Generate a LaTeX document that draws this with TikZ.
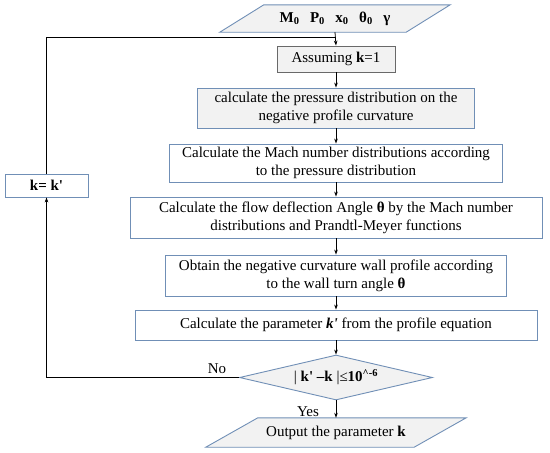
\documentclass[tikz,border=0pt]{standalone}
\usepackage{fontspec}
\setmainfont{Liberation Serif}
\usetikzlibrary{arrows.meta,calc,shapes.geometric}
\definecolor{bordblue}{RGB}{112,143,182}
\definecolor{lightfill}{RGB}{242,242,242}
\definecolor{graybord}{RGB}{105,105,105}
\tikzset{
  boxw/.style={draw=bordblue, line width=0.9pt, fill=white, inner sep=0pt, align=center,
    font=\fontsize{15}{18}\selectfont},
  boxg/.style={boxw, fill=lightfill},
  txtonly/.style={inner sep=0pt, align=center, font=\fontsize{15}{18}\selectfont},
  para/.style={draw=bordblue, line width=0.9pt, fill=lightfill},
  arr/.style={line width=0.8pt, -{Stealth[length=5pt,width=3.6pt]}},
  ln/.style={line width=0.8pt},
}
\begin{document}
\begin{tikzpicture}[x=1pt,y=-1pt]
\useasboundingbox (0,0) rectangle (550,453);
% input parallelogram
\node[txtonly, minimum width=186, minimum height=27] (in) at (335,18.5) {};
\draw[para] ($(in.south west)+(-22,0)$) -- ($(in.south east)+(-22,0)$) -- ($(in.north east)+(22,0)$) -- ($(in.north west)+(22,0)$) -- cycle;
\node[txtonly, font=\fontsize{15}{18}\selectfont\bfseries] at (in) {M\textsubscript{0}\hspace{0.7em}P\textsubscript{0}\hspace{0.7em}x\textsubscript{0}\hspace{0.7em}θ\textsubscript{0}\hspace{0.7em}γ};
% boxes
\node[boxg, draw=graybord, minimum width=118, minimum height=26] (assume) at (336,59) {Assuming \textbf{k}=1};
\node[boxg, minimum width=277, minimum height=40] (b1) at (336,108) {calculate the pressure distribution on the\\negative profile curvature};
\node[boxw, minimum width=333, minimum height=38] (b2) at (336,163) {Calculate the Mach number distributions according\\to the pressure distribution};
\node[boxw, minimum width=412, minimum height=41] (b3) at (336,217.5) {Calculate the flow deflection Angle \textbf{θ} by the Mach number\\distributions and Prandtl-Meyer functions};
\node[boxw, minimum width=341, minimum height=41] (b4) at (336,275.5) {Obtain the negative curvature wall profile according\\to the wall turn angle \textbf{θ}};
\node[boxw, minimum width=402, minimum height=30] (b5) at (336,325) {Calculate the parameter \textbf{\textit{k\textquotesingle}} from the profile equation};
\node[boxw, diamond, fill=lightfill, aspect=4.3, minimum width=193, minimum height=45] (dec) at (336,377.5) {| \textbf{k\textquotesingle} \textbf{–k} |≤\textbf{10\textsuperscript{\textasciicircum-6}}};
% output parallelogram
\node[txtonly, minimum width=208, minimum height=29] (out) at (336,432.5) {};
\draw[para] ($(out.south west)+(-26,0)$) -- ($(out.south east)+(-26,0)$) -- ($(out.north east)+(26,0)$) -- ($(out.north west)+(26,0)$) -- cycle;
\node[txtonly] at (out) {Output the parameter \textbf{k}};
% k = k' box
\node[boxw, minimum width=83, minimum height=23] (kk) at (46.5,185.5) {\textbf{k= k\textquotesingle}};
% join coordinates
\coordinate (join) at (336,37);
\coordinate (lt) at (46.5,37);
\coordinate (lb) at (46.5,377.5);
% connectors
\draw[arr] (in.south) -- (assume.north);
\draw[ln] (kk.north) -- (lt) -- (join);
\draw[arr] (assume.south) -- (b1.north);
\draw[arr] (b1.south) -- (b2.north);
\draw[arr] (b2.south) -- (b3.north);
\draw[arr] (b3.south) -- (b4.north);
\draw[arr] (b4.south) -- (b5.north);
\draw[arr] (b5.south) -- (dec.north);
\draw[arr] (dec.south) -- (out.north);
\draw[ln] (dec.west) -- (lb);
\draw[arr] (lb) -- (kk.south);
% labels
\node[txtonly] (no) at (217,369) {No};
\node[txtonly] (yes) at (308,412) {Yes};
\end{tikzpicture}
\end{document}
